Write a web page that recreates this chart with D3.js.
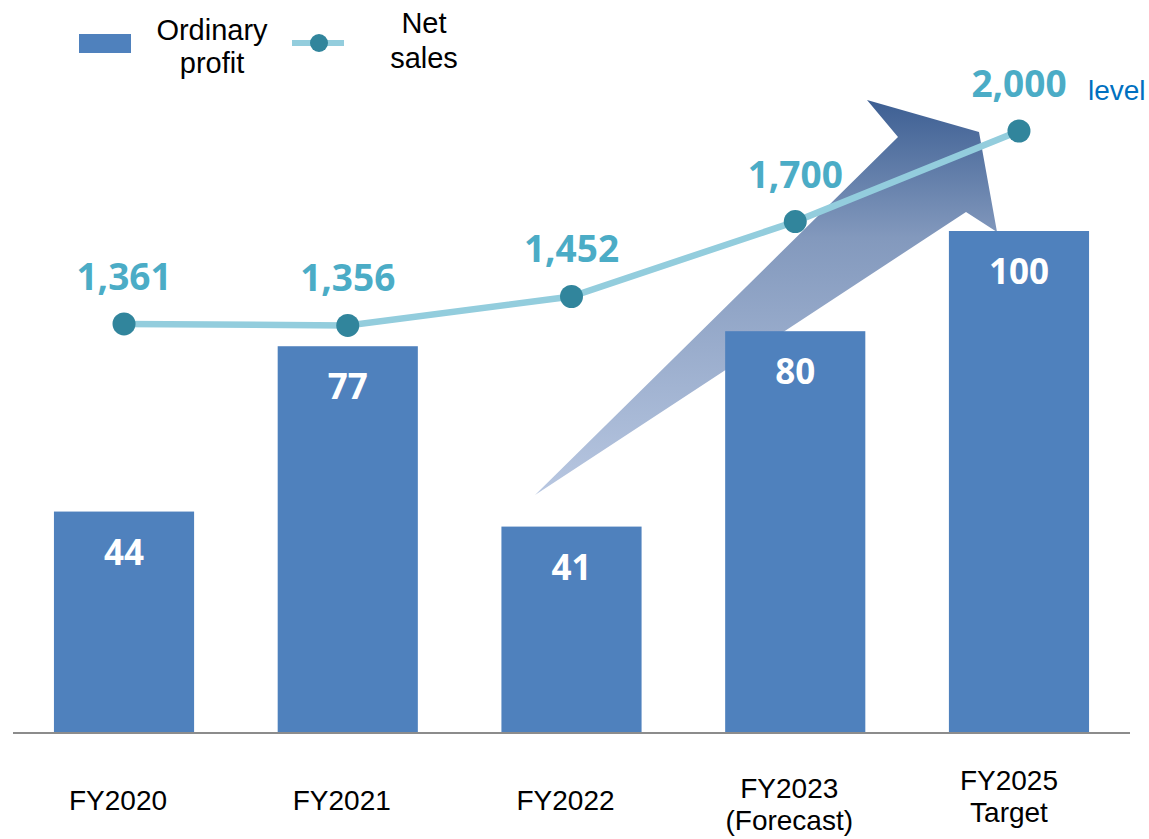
<!DOCTYPE html>
<html><head><meta charset="utf-8">
<script src="https://cdn.jsdelivr.net/npm/d3@7"></script>
<style>body{margin:0;background:#fff}svg{display:block}</style>
</head><body>
<script>
const categories = ["FY2020", "FY2021", "FY2022", "FY2023", "FY2025"];
const categoryLabels = [["FY2020"], ["FY2021"], ["FY2022"], ["FY2023", "(Forecast)"], ["FY2025", "Target"]];
const ordinaryProfit = [44, 77, 41, 80, 100];
const netSales = [1361, 1356, 1452, 1700, 2000];
const netSalesLabels = ["1,361", "1,356", "1,452", "1,700", "2,000"];

const W = 1149, H = 839;
const svg = d3.select("body").append("svg").attr("width", W).attr("height", H);

const x = d3.scaleBand().domain(categories).range([13, 1130]).paddingInner(0.3736).paddingOuter(0.183);
const yBar = d3.scaleLinear().domain([0, 100]).range([732, 231]);
const yLine = d3.scaleLinear().domain([0, 2000]).range([735, 131]);

// gradient arrow
const defs = svg.append("defs");
const grad = defs.append("linearGradient").attr("id", "ag").attr("gradientUnits", "userSpaceOnUse")
  .attr("x1", 0).attr("y1", 100).attr("x2", 0).attr("y2", 495);
grad.append("stop").attr("offset", 0).attr("stop-color", "#3d5f93");
grad.append("stop").attr("offset", 0.35).attr("stop-color", "#8399bd");
grad.append("stop").attr("offset", 1).attr("stop-color", "#b8c7e1");
svg.append("path")
  .attr("d", "M535,495 L898,137 L867,100 L979,132 L997,232 L966,212 Z")
  .attr("fill", "url(#ag)");

// bars
svg.selectAll("rect.bar").data(ordinaryProfit).join("rect").attr("class", "bar")
  .attr("x", (d, i) => x(categories[i])).attr("width", x.bandwidth())
  .attr("y", d => yBar(d)).attr("height", d => yBar(0) - yBar(d))
  .attr("fill", "#4f81bd");

svg.selectAll("text.bl").data(ordinaryProfit).join("text").attr("class", "bl")
  .attr("x", (d, i) => x(categories[i]) + x.bandwidth() / 2)
  .attr("y", d => yBar(d) + 53)
  .attr("text-anchor", "middle").attr("fill", "#fff")
  .attr("font-family", "'Open Sans', sans-serif").attr("font-weight", "bold").attr("font-size", 35)
  .text(d => d);

// axis line
svg.append("line").attr("x1", 13).attr("x2", 1130).attr("y1", 733).attr("y2", 733)
  .attr("stroke", "#8c8c8c").attr("stroke-width", 2);

// line
const cx = (d, i) => x(categories[i]) + x.bandwidth() / 2;
svg.append("path").datum(netSales)
  .attr("d", d3.line().x(cx).y(d => yLine(d)))
  .attr("fill", "none").attr("stroke", "#93cddd").attr("stroke-width", 6.5);
svg.selectAll("circle.pt").data(netSales).join("circle").attr("class", "pt")
  .attr("cx", cx).attr("cy", d => yLine(d)).attr("r", 11.5).attr("fill", "#31859c");
svg.selectAll("text.nl").data(netSales).join("text").attr("class", "nl")
  .attr("x", cx).attr("y", d => yLine(d) - 34)
  .attr("text-anchor", "middle").attr("fill", "#4bacc6")
  .attr("font-family", "'Open Sans', sans-serif").attr("font-weight", "bold").attr("font-size", 37)
  .text((d, i) => netSalesLabels[i]);
svg.append("text").attr("x", 1088).attr("y", 100).attr("fill", "#0070c0")
  .attr("font-family", "'Liberation Sans', Arial, sans-serif").attr("font-size", 28).text("level");

// category labels
const catG = svg.selectAll("text.cat").data(categoryLabels).join("text").attr("class", "cat")
  .attr("text-anchor", "middle").attr("fill", "#000")
  .attr("font-family", "'Liberation Sans', Arial, sans-serif").attr("font-size", 28)
  .attr("transform", (d, i) => `translate(${x(categories[i]) + x.bandwidth() / 2 - (i === 4 ? 10 : 6)},${d.length > 1 ? (i === 3 ? 798 : 790) : 810})`);
catG.selectAll("tspan").data(d => d).join("tspan")
  .attr("x", 0).attr("y", (d, j) => j * 32).text(d => d);

// legend
svg.append("rect").attr("x", 79).attr("y", 34).attr("width", 52).attr("height", 19).attr("fill", "#4f81bd");
const lf = "'Liberation Sans', Arial, sans-serif";
svg.append("text").attr("x", 212).attr("y", 40).attr("text-anchor", "middle").attr("font-family", lf).attr("font-size", 29).text("Ordinary");
svg.append("text").attr("x", 212).attr("y", 73).attr("text-anchor", "middle").attr("font-family", lf).attr("font-size", 29).text("profit");
svg.append("line").attr("x1", 292).attr("x2", 344).attr("y1", 43).attr("y2", 43).attr("stroke", "#93cddd").attr("stroke-width", 6);
svg.append("circle").attr("cx", 319).attr("cy", 43).attr("r", 9).attr("fill", "#31859c");
svg.append("text").attr("x", 424).attr("y", 33).attr("text-anchor", "middle").attr("font-family", lf).attr("font-size", 29).text("Net");
svg.append("text").attr("x", 424).attr("y", 68).attr("text-anchor", "middle").attr("font-family", lf).attr("font-size", 29).text("sales");
</script>
</body></html>
